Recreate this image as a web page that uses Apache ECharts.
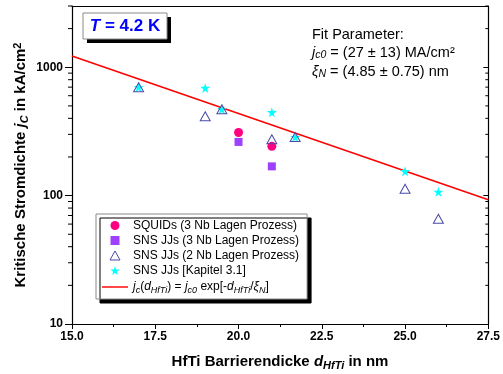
<!DOCTYPE html>
<html>
<head>
<meta charset="utf-8">
<script src="https://cdn.jsdelivr.net/npm/echarts@6/dist/echarts.min.js"></script>
<style>html,body{margin:0;padding:0;background:#fff;}#c{width:503px;height:374px;}</style>
</head>
<body>
<div id="c"></div>
<script>
// ---- data ----
var squidX = [20.0, 21.0];
var squidY = [310, 242];
var sns3X = [20.0, 21.0];
var sns3Y = [262, 169];
var sns2X = [17.0, 19.0, 19.5, 21.0, 21.7, 25.0, 26.0];
var sns2Y = [698, 415, 471, 275, 286, 113, 66];
var kapX = [17.0, 19.0, 19.5, 21.0, 21.7, 25.0, 26.0];
var kapY = [698, 690, 471, 446, 286, 155, 107];
var fitX = [15.0, 27.5];
var fitY = [1225, 93];
var yTickLabels = [10, 100, 1000];
var yMinorTicks = [20, 30, 40, 50, 60, 70, 80, 90, 200, 300, 400, 500, 600, 700, 800, 900, 2000, 3000];
var xRange = [15.0, 27.5];
var yRange = [10, 3000];

function pairs(xs, ys) { return xs.map(function (x, i) { return [x, ys[i]]; }); }

var FONT = '"Liberation Sans", Arial, sans-serif';
var STAR = 'path://M50,0 L61,35 L98,35 L68,57 L79,91 L50,70 L21,91 L32,57 L2,35 L39,35 Z';
var SQUARE = 'path://M0,0 L10,0 L10,10 L0,10 Z';
var TRI = 'path://M5,0 L10,9 L0,9 Z';
var LINEICON = 'path://M0,0 L100,0 L100,5.5 L0,5.5 Z';

var chart = echarts.init(document.getElementById('c'), null, { renderer: 'canvas' });

var legendRich = {
  i: { fontStyle: 'italic', fontSize: 12, fontFamily: FONT, lineHeight: 16 },
  n: { fontSize: 12, fontFamily: FONT, lineHeight: 16 },
  sub: { fontSize: 9, fontStyle: 'italic', verticalAlign: 'bottom', lineHeight: 9, fontFamily: FONT }
};

var option = {
  animation: false,
  backgroundColor: '#ffffff',
  grid: { left: 72, right: 14, top: 6, bottom: 50, containLabel: false },
  xAxis: [{
    type: 'value', min: xRange[0], max: xRange[1], interval: 2.5,
    axisLine: { show: true, onZero: false, lineStyle: { color: '#000', width: 1.2 } },
    axisTick: { show: true, length: 5, inside: false, lineStyle: { color: '#000', width: 1 } },
    minorTick: { show: true, splitNumber: 2, length: 3, lineStyle: { color: '#000', width: 1 } },
    splitLine: { show: false },
    axisLabel: { margin: 7, color: '#000', fontWeight: 'bold', fontSize: 12, fontFamily: FONT,
      formatter: function (v) { return v.toFixed(1); } }
  }, {
    type: 'value', position: 'top', min: xRange[0], max: xRange[1], interval: 2.5,
    axisLine: { show: true, onZero: false, lineStyle: { color: '#000', width: 1.2 } },
    axisTick: { show: false }, axisLabel: { show: false }, splitLine: { show: false }
  }],
  yAxis: [{
    type: 'log', logBase: 10, min: yRange[0], max: yRange[1],
    axisLine: { show: true, onZero: false, lineStyle: { color: '#000', width: 1.2 } },
    axisTick: { show: true, length: 7, inside: false, lineStyle: { color: '#000', width: 1 } },
    splitLine: { show: false },
    axisLabel: { margin: 9, color: '#000', fontWeight: 'bold', fontSize: 12, fontFamily: FONT,
      showMaxLabel: false,
      formatter: function (v) { var r = Math.round(v); return yTickLabels.indexOf(r) >= 0 ? String(r) : ''; } }
  }, {
    type: 'log', logBase: 10, min: yRange[0], max: yRange[1], position: 'right',
    axisLine: { show: true, onZero: false, lineStyle: { color: '#000', width: 1.2 } },
    axisTick: { show: true, length: 5, inside: true, lineStyle: { color: '#000', width: 1 } },
    splitLine: { show: false }, axisLabel: { show: false }
  }],
  legend: {
    orient: 'vertical', left: 96, top: 214,
    padding: [5, 8, 4, 6],
    itemWidth: 26, itemHeight: 9, itemGap: 2,
    symbolKeepAspect: true,
    backgroundColor: '#fff', borderColor: '#8a8a8a', borderWidth: 1,
    shadowColor: '#000', shadowBlur: 0, shadowOffsetX: 4, shadowOffsetY: 4,
    textStyle: { fontSize: 12, lineHeight: 13, color: '#000', fontFamily: FONT, rich: legendRich },
    data: [
      { name: 'SQUIDs (3 Nb Lagen Prozess)', icon: 'circle' },
      { name: 'SNS JJs (3 Nb Lagen Prozess)', icon: SQUARE },
      { name: 'SNS JJs (2 Nb Lagen Prozess)', icon: TRI,
        itemStyle: { color: 'rgba(255,255,255,0)', borderColor: '#4a4aa8', borderWidth: 1 } },
      { name: 'SNS JJs [Kapitel 3.1]', icon: STAR },
      { name: 'fit', icon: LINEICON }
    ],
    formatter: function (name) {
      if (name === 'fit') {
        return '{i|j}{sub|c}{n|(}{i|d}{sub|HfTi}{n|) = }{i|j}{sub|c0}{n| exp[-}{i|d}{sub|HfTi}{n|/}{i|ξ}{sub|N}{n|]}';
      }
      return name;
    }
  },
  graphic: [
    // T = 4.2 K box
    { type: 'rect', shape: { x: 87, y: 17, width: 84, height: 26 }, style: { fill: '#000' }, z: 10 },
    { type: 'rect', shape: { x: 83, y: 13, width: 84, height: 26 }, style: { fill: '#fff', stroke: '#8a8a8a', lineWidth: 1 }, z: 11 },
    { type: 'text', x: 125, y: 26.5, z: 12,
      style: { text: '{i|T} = 4.2 K', align: 'center', verticalAlign: 'middle',
        fill: '#0000ff', fontWeight: 'bold', fontSize: 17, fontFamily: FONT,
        rich: { i: { fontStyle: 'italic', fontWeight: 'bold', fontSize: 17, fill: '#0000ff', fontFamily: FONT } } } },
    // Fit parameters
    { type: 'text', x: 312, y: 35, z: 12,
      style: { text: 'Fit Parameter:', align: 'left', verticalAlign: 'middle', fill: '#000', fontSize: 14.5, fontFamily: FONT } },
    { type: 'text', x: 312, y: 53, z: 12,
      style: { text: '{i|j}{sub|c0} = (27 ± 13) MA/cm²', align: 'left', verticalAlign: 'middle', fill: '#000', fontSize: 14.5, fontFamily: FONT, lineHeight: 16,
        rich: { i: { fontStyle: 'italic', fontSize: 14.5, fontFamily: FONT, lineHeight: 16 },
                sub: { fontStyle: 'italic', fontSize: 10.5, verticalAlign: 'bottom', lineHeight: 10, fontFamily: FONT } } } },
    { type: 'text', x: 312, y: 72, z: 12,
      style: { text: '{i|ξ}{sub|N} = (4.85 ± 0.75) nm', align: 'left', verticalAlign: 'middle', fill: '#000', fontSize: 14.5, fontFamily: FONT, lineHeight: 16,
        rich: { i: { fontStyle: 'italic', fontSize: 14.5, fontFamily: FONT, lineHeight: 16 },
                sub: { fontStyle: 'italic', fontSize: 10.5, verticalAlign: 'bottom', lineHeight: 10, fontFamily: FONT } } } },
    // Y axis title
    { type: 'text', x: 21, y: 165, rotation: Math.PI / 2, z: 12,
      style: { text: 'Kritische Stromdichte {i|j}{sub|C} in kA/cm{sup|2}', align: 'center', verticalAlign: 'middle',
        fill: '#000', fontWeight: 'bold', fontSize: 15, fontFamily: FONT, lineHeight: 18,
        rich: { i: { fontStyle: 'italic', fontWeight: 'bold', fontSize: 15, fontFamily: FONT, lineHeight: 18 },
                sub: { fontStyle: 'italic', fontWeight: 'bold', fontSize: 11, verticalAlign: 'bottom', lineHeight: 11, fontFamily: FONT },
                sup: { fontWeight: 'bold', fontSize: 11, verticalAlign: 'top', lineHeight: 11, fontFamily: FONT } } } },
    // X axis title
    { type: 'text', x: 280, y: 362, z: 12,
      style: { text: 'HfTi Barrierendicke {i|d}{sub|HfTi} in nm', align: 'center', verticalAlign: 'middle',
        fill: '#000', fontWeight: 'bold', fontSize: 15, fontFamily: FONT, lineHeight: 18,
        rich: { i: { fontStyle: 'italic', fontWeight: 'bold', fontSize: 15, fontFamily: FONT, lineHeight: 18 },
                sub: { fontStyle: 'italic', fontWeight: 'bold', fontSize: 11, verticalAlign: 'bottom', lineHeight: 11, fontFamily: FONT } } } }
  ],
  series: [
    { name: 'fit', type: 'line', data: pairs(fitX, fitY), symbol: 'none', showSymbol: false,
      lineStyle: { color: '#ff0000', width: 1.5 }, itemStyle: { color: '#ff0000' }, z: 2 },
    { name: 'SQUIDs (3 Nb Lagen Prozess)', type: 'scatter', data: pairs(squidX, squidY),
      symbol: 'circle', symbolSize: 9, itemStyle: { color: '#ff0080', opacity: 1 }, z: 3 },
    { name: 'SNS JJs (3 Nb Lagen Prozess)', type: 'scatter', data: pairs(sns3X, sns3Y),
      symbol: 'rect', symbolSize: 8, itemStyle: { color: '#a040ff', opacity: 1 }, z: 3 },
    { name: 'SNS JJs [Kapitel 3.1]', type: 'scatter', data: pairs(kapX, kapY),
      symbol: STAR, symbolSize: 10, itemStyle: { color: '#00ffff', opacity: 1 }, z: 3 },
    { name: 'SNS JJs (2 Nb Lagen Prozess)', type: 'scatter', data: pairs(sns2X, sns2Y),
      symbol: 'triangle', symbolSize: [10, 9], itemStyle: { color: 'rgba(255,255,255,0)', borderColor: '#4a4aa8', borderWidth: 1, opacity: 1 }, z: 4 },
    { name: 'minorTicks', type: 'custom', coordinateSystem: 'cartesian2d', clip: false, silent: true, z: 5,
      data: yMinorTicks.map(function (v) { return [xRange[0], v]; }),
      renderItem: function (params, api) {
        var v = api.value(1);
        var pl = api.coord([xRange[0], v]);
        var pr = api.coord([xRange[1], v]);
        return { type: 'group', children: [
          { type: 'line', shape: { x1: pl[0] - 4, y1: pl[1], x2: pl[0], y2: pl[1] }, style: { stroke: '#000', lineWidth: 1 } },
          { type: 'line', shape: { x1: pr[0] - 3, y1: pr[1], x2: pr[0], y2: pr[1] }, style: { stroke: '#000', lineWidth: 1 } }
        ] };
      }
    }
  ]
};
chart.setOption(option);
</script>
</body>
</html>
